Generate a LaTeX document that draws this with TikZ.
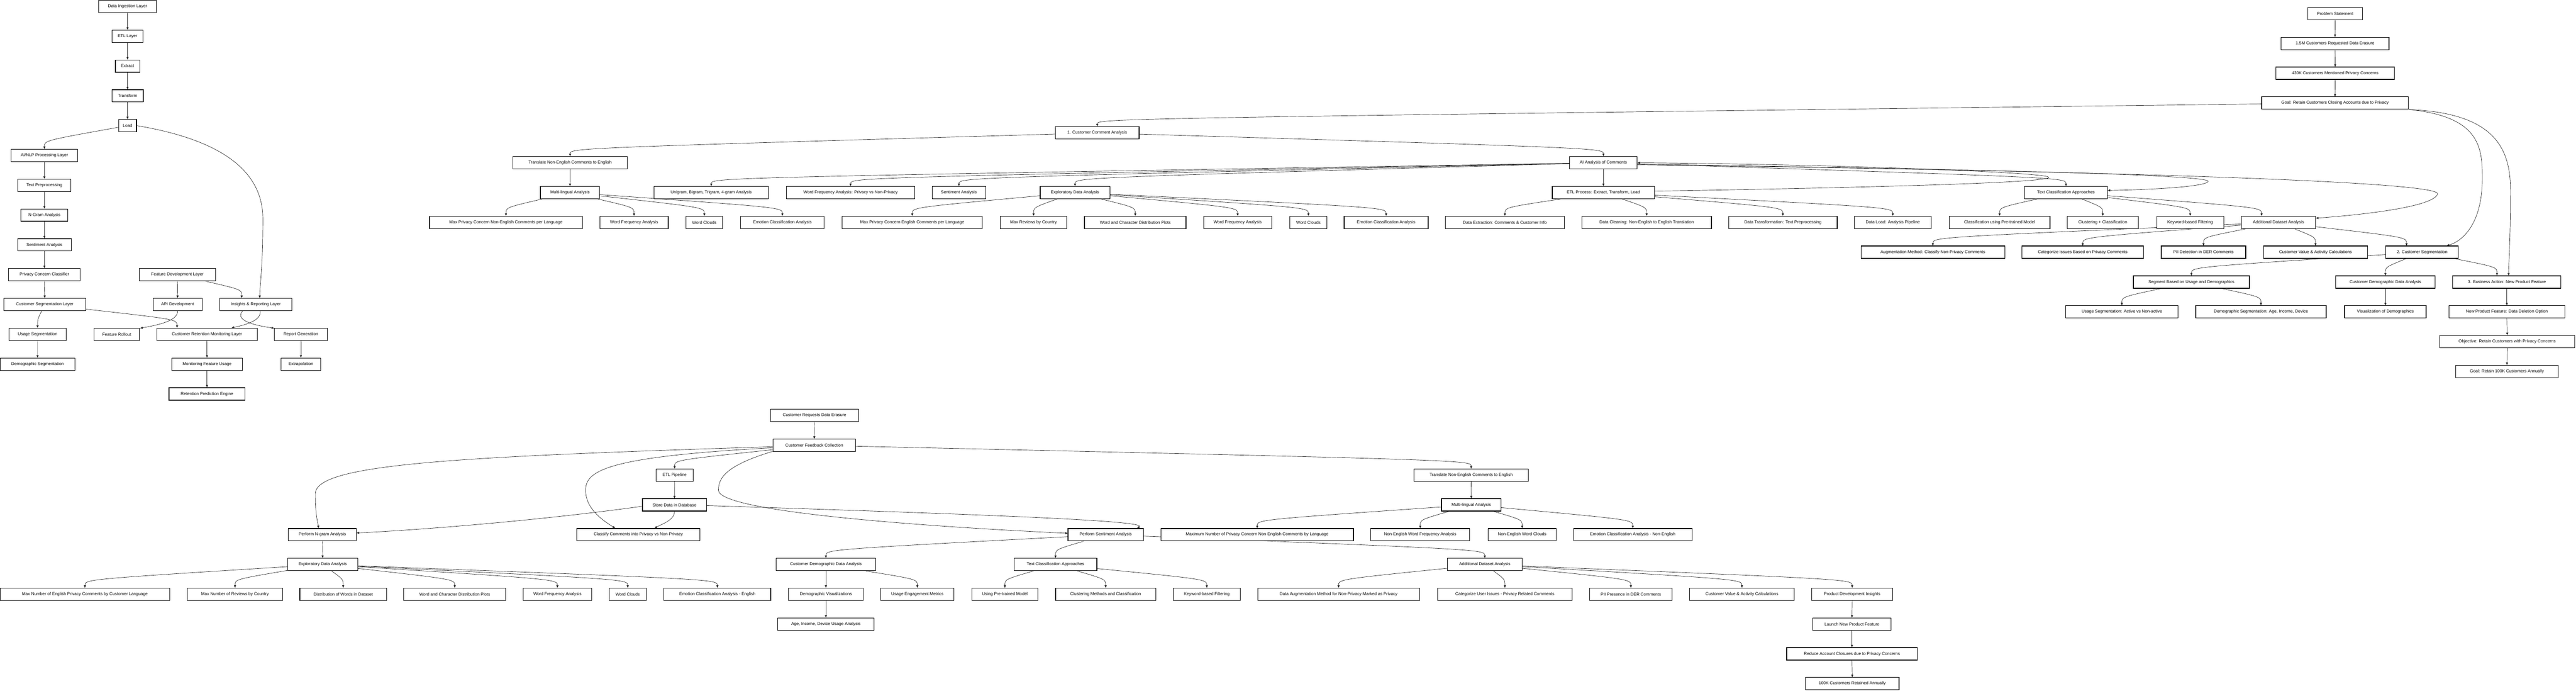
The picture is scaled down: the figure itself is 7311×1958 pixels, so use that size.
\documentclass[tikz,border=0pt]{standalone}
\usepackage{fontspec}
\setmainfont{Liberation Sans}
\usetikzlibrary{arrows.meta,calc}
\pgfdeclarelayer{bg}
\pgfsetlayers{bg,main}
\tikzset{
 box/.style={draw=black, line width=1.8pt, fill=white, inner sep=0pt, minimum height=35pt, font=\fontsize{12}{14}\selectfont, text=black},
 conn/.style={draw=black!85, line width=1pt, -{Triangle[length=7pt,width=6pt]}},
}
\newcommand\mknode[5]{\node[box,minimum width=#4pt] (#1) at (#2,#3) {#5};}
\newcommand\kid[2]{\draw[conn] (#1) .. controls ($(#2.north)+(0,-24)$) .. (#2.north);}
\newcommand\kidx[3]{\draw[conn] (#1) .. controls ($(#2.north)+(#3,-24)$) .. ($(#2.north)+(#3,0)$);}
\newcommand\vedge[2]{\draw[conn] (#1.south) -- (#2.north);}
\begin{document}
\begin{tikzpicture}[x=1pt,y=-1pt]
\useasboundingbox (0,0) rectangle (7311,1958);
% ---------------- top-left graph ----------------
\mknode{DI}{362}{18.2}{164}{Data Ingestion Layer}
\mknode{ETL}{362}{102.7}{88}{ETL Layer}
\mknode{EXT}{362}{187.3}{69}{Extract}
\mknode{TRF}{362}{271.8}{89}{Transform}
\mknode{LOAD}{362}{356.3}{51}{Load}
\mknode{AINLP}{126}{440.9}{189}{AI/NLP Processing Layer}
\mknode{TXTP}{126}{525.4}{151}{Text Preprocessing}
\mknode{NGRAM}{126}{609.9}{133}{N-Gram Analysis}
\mknode{SENT}{126}{694.4}{152}{Sentiment Analysis}
\mknode{PCC}{126}{779.0}{203}{Privacy Concern Classifier}
\mknode{CSL}{127}{863.5}{232}{Customer Segmentation Layer}
\mknode{USEG}{106.6}{948.0}{162}{Usage Segmentation}
\mknode{DSEG}{106.5}{1032.6}{212}{Demographic Segmentation}
\mknode{FDL}{503.5}{779.0}{216}{Feature Development Layer}
\mknode{APID}{504}{863.5}{139}{API Development}
\mknode{IRL}{726}{863.5}{205}{Insights \& Reporting Layer}
\mknode{FR}{331.5}{948.0}{129}{Feature Rollout}
\mknode{CRML}{587.5}{948.0}{285}{Customer Retention Monitoring Layer}
\mknode{RG}{854}{948.0}{150}{Report Generation}
\mknode{MFU}{587.5}{1032.6}{200}{Monitoring Feature Usage}
\mknode{EXTRA}{854}{1032.6}{113}{Extrapolation}
\mknode{RPE}{587.5}{1117.1}{216}{Retention Prediction Engine}
% ---------------- top-right graph ----------------
\mknode{PS}{6627.5}{38.5}{155}{Problem Statement}
\mknode{M15}{6627}{123.1}{306}{1.5M Customers Requested Data Erasure}
\mknode{K430}{6627.5}{207.7}{337}{430K Customers Mentioned Privacy Concerns}
\mknode{GOAL}{6627}{292.2}{416}{Goal: Retain Customers Closing Accounts due to Privacy}
\mknode{CCA}{3114}{376.8}{238}{1. Customer Comment Analysis}
\mknode{TRN}{1618}{461.4}{325}{Translate Non-English Comments to English}
\mknode{AIA}{4550.6}{461.4}{192}{AI Analysis of Comments}
\mknode{ML}{1617.7}{546.0}{168}{Multi-lingual Analysis}
\mknode{UNI}{2018.6}{546.0}{324}{Unigram, Bigram, Trigram, 4-gram Analysis}
\mknode{WFP}{2414}{546.0}{364}{Word Frequency Analysis: Privacy vs Non-Privacy}
\mknode{SNT}{2721.5}{546.0}{152}{Sentiment Analysis}
\mknode{EDA}{3051}{546.0}{198}{Exploratory Data Analysis}
\mknode{ETLP}{4550.6}{546.0}{290}{ETL Process: Extract, Transform, Load}
\mknode{TCA}{5863.5}{546.0}{235}{Text Classification Approaches}
\mknode{LA}{1436}{630.6}{433}{Max Privacy Concern Non-English Comments per Language}
\mknode{WFA1}{1799.5}{630.6}{194}{Word Frequency Analysis}
\mknode{WC1}{1999}{630.6}{104}{Word Clouds}
\mknode{ECA1}{2220.5}{630.6}{237}{Emotion Classification Analysis}
\mknode{MPE}{2589}{630.6}{398}{Max Privacy Concern English Comments per Language}
\mknode{MRC}{2933.4}{630.6}{189}{Max Reviews by Country}
\mknode{WCD}{3222}{630.6}{288}{Word and Character Distribution Plots}
\mknode{WFA2}{3512.6}{630.6}{193}{Word Frequency Analysis}
\mknode{WC2}{3713.4}{630.6}{105}{Word Clouds}
\mknode{ECA2}{3934}{630.6}{238}{Emotion Classification Analysis}
\mknode{DEX}{4271}{630.6}{337}{Data Extraction: Comments \& Customer Info}
\mknode{DCL}{4673.4}{630.6}{368}{Data Cleaning: Non-English to English Translation}
\mknode{DTR}{5060}{630.6}{308}{Data Transformation: Text Preprocessing}
\mknode{DLD}{5372}{630.6}{218}{Data Load: Analysis Pipeline}
\mknode{CPT}{5675}{630.6}{286}{Classification using Pre-trained Model}
\mknode{CLU}{5968}{630.6}{201}{Clustering + Classification}
\mknode{KBF}{6216}{630.6}{190}{Keyword-based Filtering}
\mknode{ADA}{6466.6}{630.6}{211}{Additional Dataset Analysis}
\mknode{AUG}{5485.6}{715.1}{408}{Augmentation Method: Classify Non-Privacy Comments}
\mknode{CAT}{5911}{715.1}{345}{Categorize Issues Based on Privacy Comments}
\mknode{PII}{6253.7}{715.1}{240}{PII Detection in DER Comments}
\mknode{CVA}{6571.6}{715.1}{295}{Customer Value \& Activity Calculations}
\mknode{CS2}{6874}{715.1}{206}{2. Customer Segmentation}
\mknode{SBU}{6219.4}{799.7}{329}{Segment Based on Usage and Demographics}
\mknode{CDD}{6770}{799.7}{282}{Customer Demographic Data Analysis}
\mknode{BA3}{7114.7}{799.7}{307}{3. Business Action: New Product Feature}
\mknode{USA}{6022}{884.3}{319}{Usage Segmentation: Active vs Non-active}
\mknode{DSA}{6416.8}{884.3}{370}{Demographic Segmentation: Age, Income, Device}
\mknode{VOD}{6770}{884.3}{231}{Visualization of Demographics}
\mknode{NPF}{7114.7}{884.3}{329}{New Product Feature: Data Deletion Option}
\mknode{OBJ}{7115.7}{968.9}{384}{Objective: Retain Customers with Privacy Concerns}
\mknode{GHK}{7115}{1053.5}{290}{Goal: Retain 100K Customers Annually}
% ---------------- bottom graph ----------------
\mknode{CRDE}{2311.7}{1178.1}{250}{Customer Requests Data Erasure}
\mknode{CFC}{2311}{1262.6}{235}{Customer Feedback Collection}
\mknode{ETLPL}{1914.6}{1347.1}{105}{ETL Pipeline}
\mknode{TRN2}{4175.3}{1347.1}{325}{Translate Non-English Comments to English}
\mknode{STO}{1914.3}{1431.6}{182}{Store Data in Database}
\mknode{ML2}{4175.6}{1431.6}{169}{Multi-lingual Analysis}
\mknode{PNG}{915}{1516.1}{193}{Perform N-gram Analysis}
\mknode{CLS}{1811.8}{1516.1}{349}{Classify Comments into Privacy vs Non-Privacy}
\mknode{PSA}{3138}{1516.1}{214}{Perform Sentiment Analysis}
\mknode{MNP}{3568}{1516.1}{546}{Maximum Number of Privacy Concern Non-English Comments by Language}
\mknode{NEWF}{4030.7}{1516.1}{281}{Non-English Word Frequency Analysis}
\mknode{NEWC}{4320}{1516.1}{194}{Non-English Word Clouds}
\mknode{ECNE}{4634}{1516.1}{336}{Emotion Classification Analysis - Non-English}
\mknode{EDB}{915.7}{1600.6}{199}{Exploratory Data Analysis}
\mknode{CDDB}{2344}{1600.6}{282}{Customer Demographic Data Analysis}
\mknode{TCB}{2995.6}{1600.6}{235}{Text Classification Approaches}
\mknode{ADB}{4214}{1600.6}{211}{Additional Dataset Analysis}
\mknode{MNE}{241}{1685.1}{482}{Max Number of English Privacy Comments by Customer Language}
\mknode{MNR}{667}{1685.1}{270}{Max Number of Reviews by Country}
\mknode{DOW}{974}{1685.1}{246}{Distribution of Words in Dataset}
\mknode{WCDP}{1290.6}{1685.1}{289}{Word and Character Distribution Plots}
\mknode{WFA3}{1582}{1685.1}{194}{Word Frequency Analysis}
\mknode{WC3}{1781.6}{1685.1}{105}{Word Clouds}
\mknode{ECAE}{2036}{1685.1}{303}{Emotion Classification Analysis - English}
\mknode{DVIS}{2344}{1685.1}{212}{Demographic Visualizations}
\mknode{UEM}{2603.5}{1685.1}{207}{Usage Engagement Metrics}
\mknode{UPM}{2852}{1685.1}{188}{Using Pre-trained Model}
\mknode{CMC}{3138}{1685.1}{284}{Clustering Methods and Classification}
\mknode{KBB}{3425}{1685.1}{190}{Keyword-based Filtering}
\mknode{DAM}{3799}{1685.1}{459}{Data Augmentation Method for Non-Privacy Marked as Privacy}
\mknode{CUI}{4271}{1685.1}{382}{Categorize User Issues - Privacy Related Comments}
\mknode{PIIP}{4628.6}{1685.1}{234}{PII Presence in DER Comments}
\mknode{CVB}{4943.7}{1685.1}{296}{Customer Value \& Activity Calculations}
\mknode{PDI}{5256.7}{1685.1}{230}{Product Development Insights}
\mknode{AIDU}{2344}{1769.6}{273}{Age, Income, Device Usage Analysis}
\mknode{LNP}{5256}{1769.6}{222}{Launch New Product Feature}
\mknode{RAC}{5256}{1854.1}{370}{Reduce Account Closures due to Privacy Concerns}
\mknode{RHK}{5257}{1938.6}{265}{100K Customers Retained Annually}

\begin{pgfonlayer}{bg}
\fill[white] (0,0) rectangle (7311,1958);
% top-left edges
\vedge{DI}{ETL}\vedge{ETL}{EXT}\vedge{EXT}{TRF}\vedge{TRF}{LOAD}
\kid{LOAD}{AINLP}
\draw[conn] (LOAD.east) .. controls (620,395) and (746,480) .. (746,620) .. controls (746,760) and (738,800) .. ($(IRL.north)+(11,0)$);
\vedge{AINLP}{TXTP}\vedge{TXTP}{NGRAM}\vedge{NGRAM}{SENT}\vedge{SENT}{PCC}\vedge{PCC}{CSL}
\kid{CSL}{USEG}
\vedge{USEG}{DSEG}
\kidx{CSL}{CRML}{-85}
\vedge{FDL}{APID}
\kidx{FDL}{IRL}{-40}
\draw[conn] (APID.south) .. controls (504,905) and (470,918) .. ($(FR.north east)+(1,1)$);
\draw[conn] ($(IRL.south)+(12.5,0)$) .. controls (741,905) and (712,918) .. ($(CRML.north)+(70,0)$);
\draw[conn] ($(IRL.south)+(-37.5,0)$) .. controls (672,900) and (690,918) .. ($(RG.north west)+(0,1)$);
\vedge{CRML}{MFU}\vedge{MFU}{RPE}\vedge{RG}{EXTRA}
% top-right edges
\vedge{PS}{M15}\vedge{M15}{K430}\vedge{K430}{GOAL}
\draw[conn] (GOAL) .. controls (3114,336) .. (CCA.north);
\draw[conn] (GOAL.south east) .. controls (7040,330) and (7045,420) .. (7045,505) .. controls (7045,640) and (6985,685) .. ($(CS2.north)+(70,0)$);
\draw[conn] (GOAL.south east) .. controls (7080,320) and (7125,420) .. (7125,540) .. controls (7125,680) and (7120,740) .. ($(BA3.north)+(5,0)$);
\draw[conn] (CCA) .. controls (1618,420) .. (TRN.north);
\draw[conn] (CCA) .. controls (4551,420) .. (AIA.north);
\vedge{TRN}{ML}
\kid{ML}{LA}\kid{ML}{WFA1}\kid{ML}{WC1}\kid{ML}{ECA1}
\kid{AIA}{UNI}\kid{AIA}{WFP}\kid{AIA}{SNT}\kid{AIA}{EDA}
\vedge{AIA}{ETLP}
\kid{EDA}{MPE}\kid{EDA}{MRC}\kid{EDA}{WCD}\kid{EDA}{WFA2}\kid{EDA}{WC2}\kid{EDA}{ECA2}
\kid{ETLP}{DEX}\kid{ETLP}{DCL}\kid{ETLP}{DTR}\kid{ETLP}{DLD}
\kid{AIA}{TCA}
\draw[conn] ($(ETLP.east)+(0,-4)$) .. controls (5300,532) and (5835,518) .. (5814,502) .. controls (5795,488) and (5200,466) .. (AIA.east);
\draw[conn] ($(AIA.east)+(0,4)$) .. controls (5600,480) and (6285,495) .. (6267,515) .. controls (6255,530) and (6100,538) .. ($(TCA.east)+(0,-6)$);
\draw[conn] ($(AIA.east)+(0,6)$) .. controls (6000,485) and (6930,515) .. (6918,550) .. controls (6908,585) and (6720,608) .. ($(ADA.east)+(0,-12)$);
\kid{TCA}{CPT}\kid{TCA}{CLU}\kid{TCA}{KBF}
\kidx{TCA}{ADA}{-48}
\kid{ADA}{AUG}\kid{ADA}{CAT}\kid{ADA}{PII}\kid{ADA}{CVA}
\kidx{ADA}{CS2}{-44}
\kid{CS2}{SBU}\kid{CS2}{CDD}
\kidx{CS2}{BA3}{-28}
\kid{SBU}{USA}\kid{SBU}{DSA}
\vedge{CDD}{VOD}\vedge{BA3}{NPF}\vedge{NPF}{OBJ}\vedge{OBJ}{GHK}
% bottom edges
\vedge{CRDE}{CFC}
\kid{CFC}{ETLPL}
\draw[conn] ($(CFC.west)+(0,4)$) .. controls (1300,1295) and (895,1315) .. (895,1400) .. controls (895,1465) and (902,1480) .. ($(PNG.north)+(-11,0)$);
\draw[conn] ($(CFC.west)+(0,7)$) .. controls (1720,1295) and (1662,1335) .. (1662,1390) .. controls (1662,1445) and (1715,1478) .. ($(CLS.north)+(-66,0)$);
\draw[conn] ($(CFC.south west)+(0,-1)$) .. controls (2060,1320) and (2039,1355) .. (2039,1390) .. controls (2039,1450) and (2600,1492) .. ($(PSA.west)+(0,-4)$);
\kid{CFC}{TRN2}
\vedge{ETLPL}{STO}
\draw[conn] (STO.south) .. controls (1914,1475) and (1880,1485) .. ($(CLS.north)+(46,0)$);
\draw[conn] ($(STO.west)+(0,4)$) .. controls (1500,1480) and (1150,1505) .. ($(PNG.east)+(0,-5)$);
\draw[conn] ($(STO.east)+(0,2)$) .. controls (2900,1462) and (3265,1478) .. ($(PSA.north)+(89,0)$);
\vedge{PNG}{EDB}
\kid{EDB}{MNE}\kid{EDB}{MNR}\kid{EDB}{DOW}\kid{EDB}{WCDP}\kid{EDB}{WFA3}\kid{EDB}{WC3}\kid{EDB}{ECAE}
\kid{PSA}{TCB}\kid{PSA}{CDDB}\kid{PSA}{ADB}
\kid{TCB}{UPM}\kid{TCB}{CMC}\kid{TCB}{KBB}
\vedge{CDDB}{DVIS}\kid{CDDB}{UEM}
\vedge{DVIS}{AIDU}
\vedge{TRN2}{ML2}
\kid{ML2}{MNP}\kid{ML2}{NEWF}\kid{ML2}{NEWC}\kid{ML2}{ECNE}
\kid{ADB}{DAM}\kid{ADB}{CUI}\kid{ADB}{PIIP}\kid{ADB}{CVB}\kid{ADB}{PDI}
\vedge{PDI}{LNP}\vedge{LNP}{RAC}\vedge{RAC}{RHK}
\end{pgfonlayer}
\end{tikzpicture}
\end{document}
